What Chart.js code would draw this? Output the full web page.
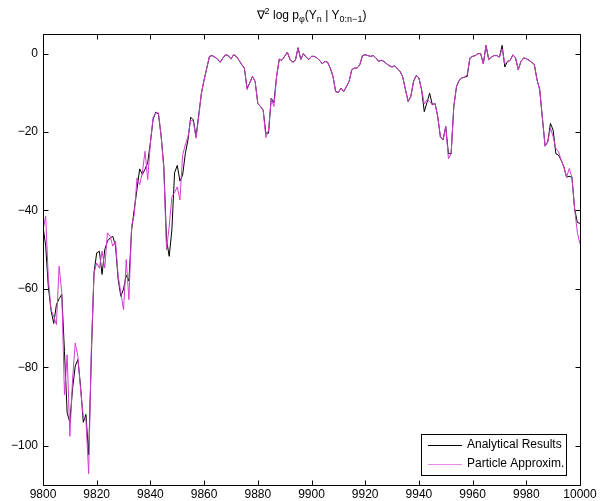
<!DOCTYPE html>
<html>
<head>
<meta charset="utf-8">
<script src="https://cdn.jsdelivr.net/npm/chart.js@4.4.1/dist/chart.umd.min.js"></script>
<style>
html,body{margin:0;padding:0;background:#fff;}
#wrap{width:615px;height:501px;position:relative;}
</style>
</head>
<body>
<div id="wrap"><canvas id="c" width="615" height="501"></canvas></div>
<script>
// ---- data ----
const startStep = 9800;
const xTicks = [9800, 9820, 9840, 9860, 9880, 9900, 9920, 9940, 9960, 9980, 10000];
const yTicks = [-100, -80, -60, -40, -20, 0];
const seriesNames = ['Analytical Results', 'Particle Approxim.'];
const analytical = [
 -44, -49, -59.5, -65.5, -68.8, -64, -62.5, -61.4, -76, -91.6,
 -94, -85.5, -79.7, -78, -84.9, -94, -92, -102.3, -77, -55.9,
 -50.8, -50.4, -56.3, -50, -47.8, -47, -46.6, -49, -57.6, -61.9,
 -60, -56.5, -58, -45, -39.7, -34.6, -29.4, -30.8, -29.5, -27.8,
 -22.7, -16.8, -14.9, -15.5, -21, -28.7, -47.4, -51.7, -44.9, -30.4,
 -28.5, -32.5, -31, -25.5, -22, -16.2, -16.9, -21.2, -15.6, -10.1,
 -6.7, -3.7, -0.7, -0.5, -0.9, -1.4, -2.2, -1.1, -0.3, -0.5,
 -1.4, -0.3, -0.7, -1.7, -2.8, -3.7, -8.8, -7.5, -5.8, -7.1,
 -12.7, -13.5, -14.4, -20.3, -20.3, -11.4, -12.5, -5.8, -1.4, -1.7,
 -0.7, 0.4, -1.5, -2.2, -1.7, 1.5, -1.5, 0, -0.9, -1.5,
 -0.7, -0.7, -1.1, -1.7, -2.6, -2, -2.2, -3.7, -5.8, -9.7,
 -9.9, -8.8, -9.7, -8.4, -7.1, -4.1, -3.7, -3.7, -2.8, -0.5,
 -0.3, -0.5, -0.7, -0.5, -1.1, -2, -1.7, -2, -2.6, -3.1,
 -3.4, -3.1, -3.9, -4.5, -6, -9.2, -12.2, -10.9, -7.1, -5.6,
 -6.2, -9.2, -14.8, -12.5, -10.1, -13, -12.7, -16, -21.2, -22,
 -18.6, -25.5, -25.5, -13.5, -8.4, -6.8, -6.2, -6, -5.8, -1.1,
 -0.7, -0.5, 0, 0, -2.6, 2.1, -1.5, -0.9, -0.5, -0.5,
 -0.9, 2.1, -3.4, -2, -1.7, -0.3, -1.1, -4.1, -2, -1.1,
 -1.3, -1.7, -2.2, -2.8, -6.7, -9.2, -16.5, -23.6, -22.5, -17.8,
 -19.5, -25.5, -25.9, -27.2, -28.9, -31.5, -31.3, -31.5, -39.6, -43,
 -43.3
];
const particle = [
 -45, -41.4, -57.6, -65.3, -67, -69.1, -54.2, -61, -87, -76.8,
 -97.6, -83.1, -73.8, -77.2, -85.7, -92.5, -93.4, -107.1, -75.5, -55.9,
 -53.4, -54.7, -50.4, -54.7, -45.7, -46.6, -49.1, -47.8, -56.8, -61,
 -65.3, -52.5, -62.7, -44, -41, -31.7, -33.4, -30.4, -24.9, -32.1,
 -22.7, -16.3, -15.1, -15.1, -21, -29.5, -50, -44, -36.5, -35.4,
 -34, -37.3, -25.9, -23.3, -21.2, -16.9, -17.3, -21.6, -16.1, -10.1,
 -6.7, -3.7, -0.7, -0.5, -0.9, -1.4, -2.2, -1.1, -0.3, -0.5,
 -1.4, -0.3, -0.7, -1.7, -2.8, -3.7, -9.2, -7.5, -5.8, -7.1,
 -12.7, -13.5, -14.4, -21.4, -19.5, -11.5, -13.5, -5.8, -1.4, -1.7,
 -0.7, 0.4, -1.5, -2.2, -1.7, 1.5, -1.5, 0, -0.9, -1.5,
 -0.7, -0.7, -1.1, -1.7, -2.6, -2, -2.2, -3.7, -5.8, -9.7,
 -9.9, -8.8, -9.7, -8.4, -7.1, -4.1, -3.7, -3.7, -2.8, -0.5,
 -0.3, -0.5, -0.7, -0.5, -1.1, -2, -1.7, -2, -2.6, -3.1,
 -3.4, -3.1, -3.9, -4.5, -6, -9.2, -12.2, -10.9, -7.1, -5.6,
 -6.2, -9.2, -12.8, -11.8, -12.2, -13.1, -12.7, -16, -21.2, -22,
 -18.6, -26.8, -25.5, -13.5, -8.4, -6.8, -6.2, -6, -5.4, -1.1,
 -0.7, -0.5, 0, 0, -2.6, 2.1, -1.5, -0.9, -0.5, -0.5,
 -0.9, 1.2, -2.6, -2, -1.7, -0.3, -1.1, -4.1, -2, -1.1,
 -1.3, -1.7, -2.2, -2.8, -6.7, -9.2, -16.5, -23.6, -22.5, -19,
 -21.2, -24.2, -25, -27.2, -28.9, -31.5, -29.3, -31.5, -39.6, -45.6,
 -48.5
];

// ---- build ----
const FONT = '"Liberation Sans", Arial, Helvetica, sans-serif';
const MAGENTA = '#d23cd2';
const toPts = arr => arr.map((v, i) => ({x: startStep + i, y: v}));
const fmt = v => (v < 0 ? '\u2212' + Math.abs(v) : String(v));

const framePlugin = {
  id: 'frame',
  afterDatasetsDraw(chart) {
    const {ctx, chartArea: a, scales} = chart;
    ctx.save();
    ctx.strokeStyle = '#000';
    ctx.lineWidth = 1;
    const L = Math.round(a.left) + 0.5, R = Math.round(a.right) + 0.5;
    const T = Math.round(a.top) + 0.5, B = Math.round(a.bottom) + 0.5;
    ctx.beginPath();
    ctx.rect(L, T, R - L, B - T);
    ctx.stroke();
    const tl = 5;
    ctx.beginPath();
    xTicks.forEach(v => {
      const px = Math.round(scales.x.getPixelForValue(v)) + 0.5;
      ctx.moveTo(px, B); ctx.lineTo(px, B - tl);
      ctx.moveTo(px, T); ctx.lineTo(px, T + tl);
    });
    yTicks.forEach(v => {
      const py = Math.round(scales.y.getPixelForValue(v)) + 0.5;
      ctx.moveTo(L, py); ctx.lineTo(L + tl, py);
      ctx.moveTo(R, py); ctx.lineTo(R - tl, py);
    });
    ctx.stroke();

    // legend box
    const bx = 421.5, by = 434.5, bw = 145, bh = 41;
    ctx.fillStyle = '#fff';
    ctx.fillRect(bx, by, bw, bh);
    ctx.strokeStyle = '#000';
    ctx.strokeRect(bx, by, bw, bh);
    const cols = ['#000000', '#e88ae8'];
    const rows = [445, 463.5];
    ctx.font = '12px ' + FONT;
    ctx.textBaseline = 'middle';
    ctx.textAlign = 'left';
    seriesNames.forEach((n, i) => {
      ctx.strokeStyle = cols[i];
      ctx.beginPath();
      ctx.moveTo(428, Math.round(rows[i]) + 0.5);
      ctx.lineTo(462, Math.round(rows[i]) + 0.5);
      ctx.stroke();
      ctx.fillStyle = '#000';
      ctx.fillText(n, 467, rows[i]);
    });

    // title with super/subscripts
    const parts = [
      {t: '\u2207', s: 12, dy: 0},
      {t: '2', s: 9, dy: -5},
      {t: ' log p', s: 12, dy: 0},
      {t: '\u03c6', s: 9, dy: 3},
      {t: '(Y', s: 12, dy: 0},
      {t: 'n', s: 9, dy: 3},
      {t: ' | Y', s: 12, dy: 0},
      {t: '0:n\u22121', s: 9, dy: 3},
      {t: ')', s: 12, dy: 0}
    ];
    let w = 0;
    parts.forEach(p => { ctx.font = p.s + 'px ' + FONT; p.w = ctx.measureText(p.t).width; w += p.w; });
    let x = (a.left + a.right) / 2 - w / 2;
    const base = 19;
    ctx.textBaseline = 'alphabetic';
    ctx.fillStyle = '#000';
    parts.forEach(p => { ctx.font = p.s + 'px ' + FONT; ctx.fillText(p.t, x, base + p.dy); x += p.w; });
    ctx.restore();
  }
};

new Chart(document.getElementById('c'), {
  type: 'line',
  data: {
    datasets: [
      {label: seriesNames[0], data: toPts(analytical), borderColor: '#000000', borderWidth: 1, pointRadius: 0, tension: 0, order: 1},
      {label: seriesNames[1], data: toPts(particle), borderColor: MAGENTA, borderWidth: 1, pointRadius: 0, tension: 0, order: 0}
    ]
  },
  options: {
    responsive: false,
    animation: false,
    events: [],
    layout: {padding: {left: 0, right: 35, top: 34, bottom: 0}},
    plugins: {legend: {display: false}, title: {display: false}, tooltip: {enabled: false}},
    scales: {
      x: {
        type: 'linear', min: 9800, max: 10000,
        grid: {display: false, drawTicks: false}, border: {display: false},
        afterBuildTicks: s => { s.ticks = xTicks.map(v => ({value: v})); },
        afterFit: s => { s.height = 16; },
        ticks: {color: '#000', font: {family: FONT, size: 12}, padding: 2, maxRotation: 0, autoSkip: false, callback: v => String(v)}
      },
      y: {
        type: 'linear', min: -110, max: 5,
        grid: {display: false, drawTicks: false}, border: {display: false},
        afterBuildTicks: s => { s.ticks = yTicks.map(v => ({value: v})); },
        afterFit: s => { s.width = 43; },
        ticks: {color: '#000', font: {family: FONT, size: 12}, padding: 5, autoSkip: false, callback: v => fmt(v)}
      }
    }
  },
  plugins: [framePlugin]
});
</script>
</body>
</html>
